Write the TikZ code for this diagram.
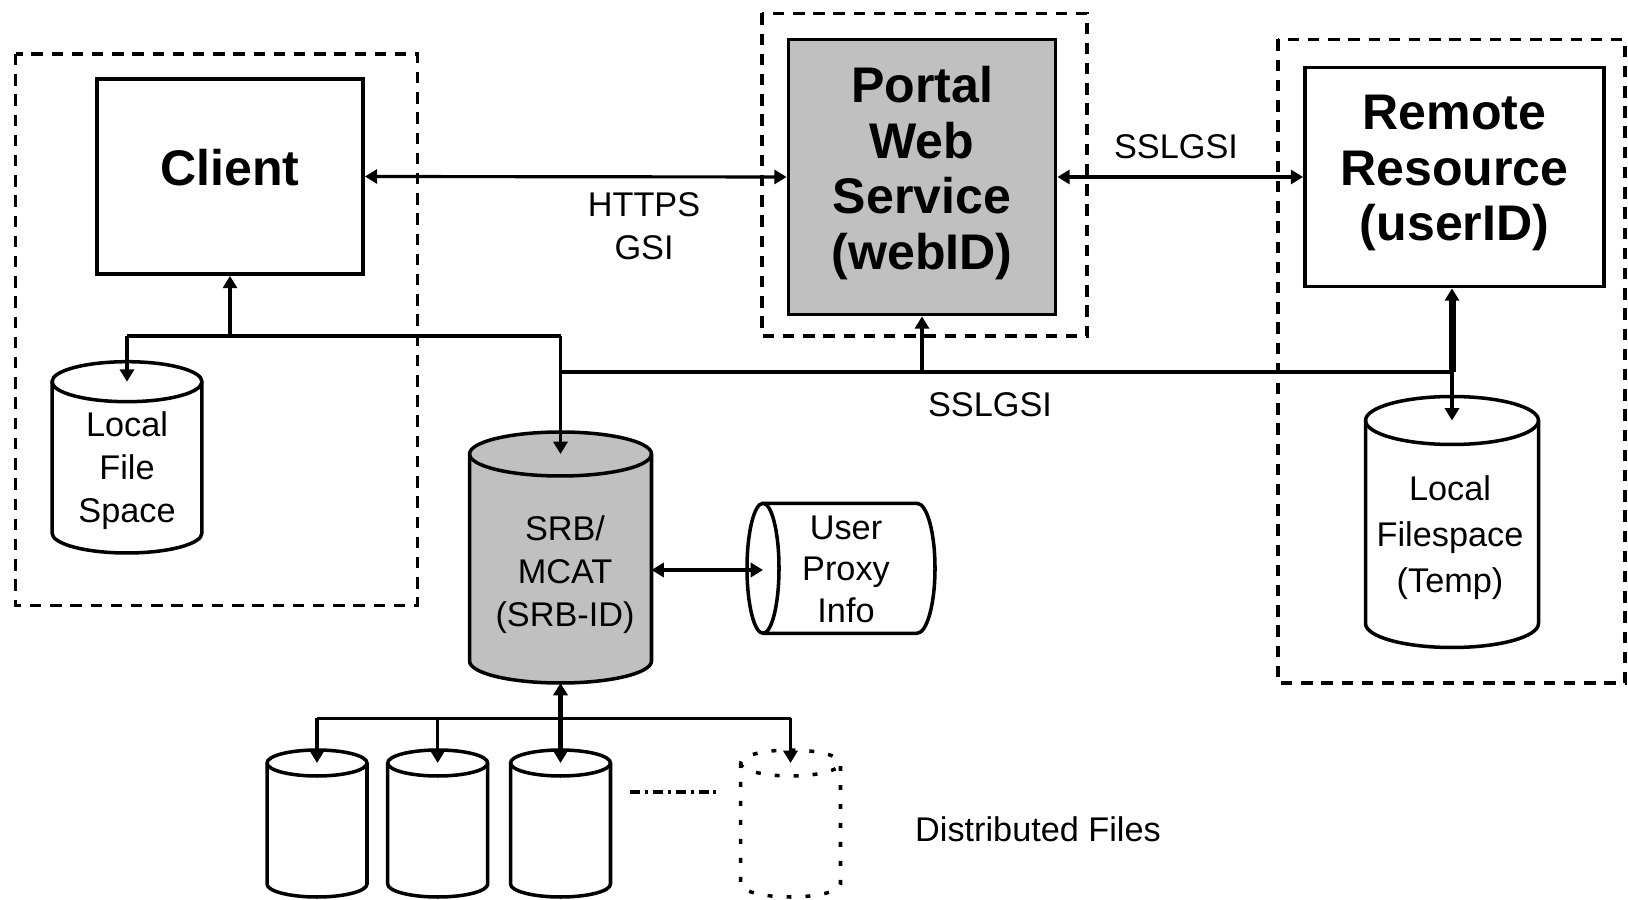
\documentclass[tikz,border=0pt]{standalone}
\usepackage{fontspec}
\setmainfont{Liberation Sans}
\usetikzlibrary{arrows.meta,calc}
\definecolor{srbgray}{HTML}{C0C0C0}
\newcommand\mydrum[7]{%
  \coordinate (#1-top) at (#2,#3);
  \coordinate (#1-bot) at (#2,#4);
  \path[#7] ([xshift=-#5]#1-top) -- ([xshift=-#5]#1-bot)
     arc[start angle=180,end angle=360,x radius=#5,y radius=#6]
     -- ([xshift=#5]#1-top)
     arc[start angle=0,end angle=180,x radius=#5,y radius=#6] -- cycle;
  \draw[#7,fill=none] ([xshift=-#5]#1-top) arc[start angle=180,end angle=360,x radius=#5,y radius=#6];
  \coordinate (#1-low) at ([yshift=-#6]#1-bot);
}
\begin{document}
\begin{tikzpicture}[x=0.02cm,y=0.02cm,
  >={Triangle[length=7pt,width=8pt]},
  bigbox/.style={draw,line width=2.2pt,inner sep=0pt},
  bigtext/.style={font=\bfseries\fontsize{28.5}{31.8}\selectfont,align=center,inner sep=0pt},
  smalltext/.style={font=\fontsize{19.5}{24.5}\selectfont,align=center,inner sep=0pt},
  frame/.style={draw,line width=2pt,dash pattern=on 6.5pt off 5pt},
  drumline/.style={draw,line width=2pt},
  dotdrum/.style={draw,line width=2pt,dash pattern=on 2.8pt off 8pt},
  conn/.style={line width=1.8pt},
  thickconn/.style={line width=4pt},
  midconn/.style={line width=2.6pt},
  dashdot/.style={line width=2pt,dash pattern=on 5.7pt off 2.8pt on 1.7pt off 2.8pt}]
\useasboundingbox (0,0) rectangle (1628,899);

% frames
\draw[frame] (15.6,845) rectangle (417.4,293.7);
\draw[frame] (762,885.6) rectangle (1087,563);
\draw[frame] (1278,859.5) rectangle (1625,216);

% main boxes
\node[bigbox,minimum width=5.32cm,minimum height=3.9cm] (client) at (230,722.5) {};
\node[bigtext] (clienttext) at (230,731) {Client};
\node[bigbox,fill=srbgray,minimum width=5.34cm,minimum height=5.5cm] (portal) at (922,722) {};
\node[bigtext] (portaltext) at (922,726) {Portal\\Web\\Service\\(webID)};
\node[bigbox,minimum width=5.98cm,minimum height=4.38cm] (remote) at (1454.5,722) {};
\node[bigtext] (remotetext) at (1454.5,726) {Remote\\Resource\\(userID)};

% cylinders
\mydrum{lfs}{127}{517.3}{366}{1.5cm}{0.4cm}{drumline}
\node[smalltext] (lfstext) at (127,428) {Local\\File\\Space};
\mydrum{srb}{560.5}{445}{238}{1.82cm}{0.44cm}{drumline,fill=srbgray}
\node[smalltext] (srbtext) at (565,324.4) {SRB/\\MCAT\\(SRB-ID)};
\mydrum{lfst}{1452}{478.5}{275.5}{1.73cm}{0.48cm}{drumline}
\node[smalltext,font=\fontsize{19.5}{26.4}\selectfont] (lfsttext) at (1450,361.4) {Local\\Filespace\\(Temp)};

\mydrum{c1}{317}{136}{15}{1.0cm}{0.26cm}{drumline}
\mydrum{c2}{437.7}{136}{15}{1.0cm}{0.26cm}{drumline}
\mydrum{c3}{560.5}{136}{15}{1.0cm}{0.26cm}{drumline}
\mydrum{c4}{790.5}{136}{15}{1.0cm}{0.26cm}{dotdrum}

% user proxy info
\node[smalltext,font=\fontsize{19.5}{23.6}\selectfont] (proxy) at (846,330) {User\\Proxy\\Info};
\draw[drumline] (763,395.7) -- (917,395.7)
   arc[start angle=90,end angle=-90,x radius=0.36cm,y radius=1.3cm]
   -- (763,265.7)
   arc[start angle=270,end angle=90,x radius=0.32cm,y radius=1.3cm] -- cycle;
\draw[drumline] (763,395.7) arc[start angle=90,end angle=-90,x radius=0.32cm,y radius=1.3cm];

% labels
\node[smalltext,font=\fontsize{19.5}{24.6}\selectfont] (https) at (644,672.8) {HTTPS\\GSI};
\node[smalltext] (ssl1) at (1176,752.5) {SSLGSI};
\node[smalltext] (ssl2) at (990,494) {SSLGSI};
\node[smalltext] (dist) at (1038,70) {Distributed Files};

% connectors
\draw[conn,<->] (client.east) -- (portal.west);
\draw[conn,<->] (portal.east) -- (remote.west);

\coordinate (j1) at (230,563);
\coordinate (j1l) at (127,563);
\coordinate (j1r) at (560.5,563);
\draw[conn,<-] (client.south) -- (j1);
\draw[conn] (j1l) -- (j1r);
\draw[conn,->] (j1l) -- (lfs-top);
\draw[conn,->] (j1r) -- (srb-top);

\coordinate (j2l) at (560.5,527);
\coordinate (j2r) at (1452,527);
\draw[conn] (j2l) -- (j2r);
\draw[conn,<-] (portal.south) -- (portal.south |- j2l);
\draw[thickconn,<-] (j2r |- remote.south) -- (j2r);
\draw[conn,->] (j2r) -- (lfst-top);

\coordinate (srbE) at (651.5,329);
\coordinate (proxyW) at (763,329);
\draw[conn,<->] (srbE) -- (proxyW);

\coordinate (j3) at (560.5,180.5);
\coordinate (j3l) at (317,180.5);
\coordinate (j3r) at (790.5,180.5);
\draw[midconn,<-] (srb-low) -- (j3);
\draw[conn] (j3l) -- (j3r);
\draw[conn,->] (j3l) -- (c1-top);
\draw[conn,->] (c2-top |- j3) -- (c2-top);
\draw[midconn,->] (j3) -- (c3-top);
\draw[conn,->] (j3r) -- (c4-top);

\coordinate (dd1) at (630,107);
\coordinate (dd2) at (719.5,107);
\draw[dashdot] (dd1) -- (dd2);
\end{tikzpicture}
\end{document}
